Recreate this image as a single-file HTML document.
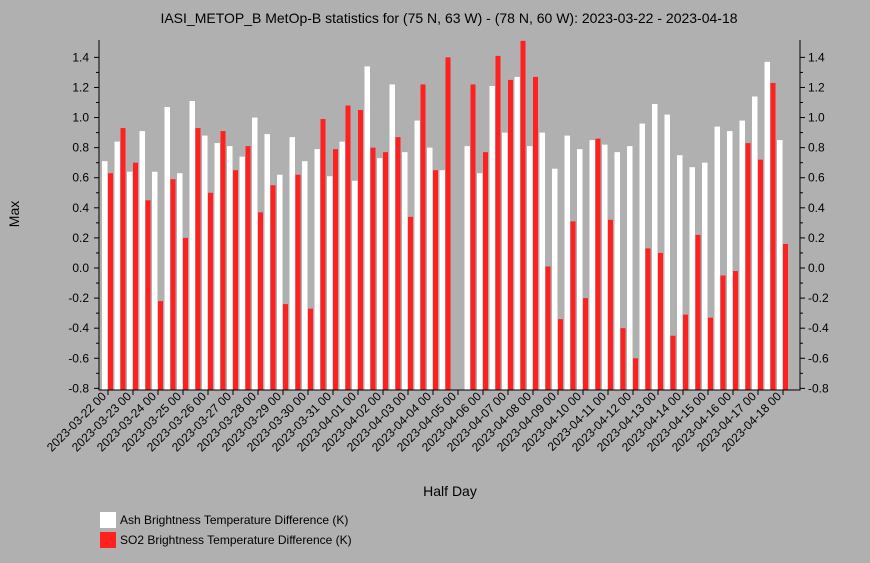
<!DOCTYPE html>
<html><head><meta charset="utf-8"><style>
html,body{margin:0;padding:0;overflow:hidden;width:870px;height:563px;background:#b0b0b0;font-family:"Liberation Sans",sans-serif;}
svg{display:block;}
svg text{font-family:"Liberation Sans",sans-serif;fill:#000;}
</style></head><body>
<svg width="870" height="563" xmlns="http://www.w3.org/2000/svg">
<rect width="870" height="563" fill="#b0b0b0"/>
<text x="449" y="23" font-size="14" text-anchor="middle">IASI_METOP_B MetOp-B statistics for (75 N, 63 W) - (78 N, 60 W): 2023-03-22 - 2023-04-18</text>
<g id="plot"></g>
<text transform="translate(19,214) rotate(-90)" font-size="14" text-anchor="middle">Max</text>
<text x="450" y="496" font-size="14" text-anchor="middle">Half Day</text>
<g>
<rect x="100" y="512" width="16" height="16" fill="#fff"/>
<text x="120" y="524" font-size="12">Ash Brightness Temperature Difference (K)</text>
<rect x="100" y="532" width="16" height="16" fill="#ff2020"/>
<text x="120" y="544" font-size="12">SO2 Brightness Temperature Difference (K)</text>
</g>
</svg>
<script>
const dayLabels=["2023-03-22 00","2023-03-23 00","2023-03-24 00","2023-03-25 00","2023-03-26 00","2023-03-27 00","2023-03-28 00","2023-03-29 00","2023-03-30 00","2023-03-31 00","2023-04-01 00","2023-04-02 00","2023-04-03 00","2023-04-04 00","2023-04-05 00","2023-04-06 00","2023-04-07 00","2023-04-08 00","2023-04-09 00","2023-04-10 00","2023-04-11 00","2023-04-12 00","2023-04-13 00","2023-04-14 00","2023-04-15 00","2023-04-16 00","2023-04-17 00","2023-04-18 00"];
const ashValues=[0.71,0.84,0.64,0.91,0.64,1.07,0.63,1.11,0.88,0.83,0.81,0.74,1.00,0.89,0.62,0.87,0.71,0.79,0.61,0.84,0.58,1.34,0.73,1.22,0.77,0.98,0.80,0.65,null,0.81,0.63,1.21,0.90,1.27,0.81,0.90,0.66,0.88,0.79,0.85,0.82,0.77,0.81,0.96,1.09,1.02,0.75,0.67,0.70,0.94,0.91,0.98,1.14,1.37,0.85];
const so2Values=[0.63,0.93,0.70,0.45,-0.22,0.59,0.20,0.93,0.50,0.91,0.65,0.81,0.37,0.55,-0.24,0.62,-0.27,0.99,0.79,1.08,1.05,0.80,0.77,0.87,0.34,1.22,0.65,1.40,null,1.22,0.77,1.41,1.25,1.51,1.27,0.01,-0.34,0.31,-0.20,0.86,0.32,-0.40,-0.60,0.13,0.10,-0.45,-0.31,0.22,-0.33,-0.05,-0.02,0.83,0.72,1.23,0.16];
const yTicks=[-0.8,-0.6,-0.4,-0.2,0.0,0.2,0.4,0.6,0.8,1.0,1.2,1.4];
const NS="http://www.w3.org/2000/svg";
const g=document.getElementById('plot');
const L=99,R=800,T=40,B=390;
function yS(v){return 268-v*150.45;}
function xS(i){return 108+i*12.5;}
function mk(t,a,p){const e=document.createElementNS(NS,t);for(const k in a)e.setAttribute(k,a[k]);(p||g).appendChild(e);return e;}
ashValues.forEach((v,i)=>{if(v==null)return;
 const r=mk('rect',{x:xS(i)-6,y:yS(v),width:5.5,height:B-yS(v),fill:'#ffffff'});
 
 });
so2Values.forEach((v,i)=>{if(v==null)return;
 const r=mk('rect',{x:xS(i),y:yS(v),width:5,height:B-yS(v),fill:'#ff2020'});
 
 });
const ax=mk('path',{d:`M${L} ${T}V${B}H${R}V${T}`,stroke:'#000','stroke-width':1,fill:'none'});


for(let k=0;k<yTicks.length;k++){const v=yTicks[k],y=yS(v);
 mk('line',{x1:L-5,x2:L,y1:y,y2:y,stroke:'#000'});
 mk('line',{x1:R,x2:R+5,y1:y,y2:y,stroke:'#000'});
 if(k<yTicks.length-1){const ym=yS(v+0.1);mk('line',{x1:L-3,x2:L,y1:ym,y2:ym,stroke:'#000'});mk('line',{x1:R,x2:R+3,y1:ym,y2:ym,stroke:'#000'});}
 const t1=mk('text',{x:L-10,y:y+4,'font-size':12,'text-anchor':'end'});t1.textContent=v.toFixed(1);
 
 
 const t2=mk('text',{x:R+8,y:y+4,'font-size':12});t2.textContent=v.toFixed(1);
 
 
}
dayLabels.forEach((s,d)=>{const x=xS(d*2);
 mk('line',{x1:x,x2:x,y1:B,y2:B+5,stroke:'#000'});
 const t=mk('text',{transform:`translate(${x-1},${B+7}) rotate(-45)`,'font-size':12,'text-anchor':'end'});t.textContent=s;
 
 });
</script>
</body></html>
